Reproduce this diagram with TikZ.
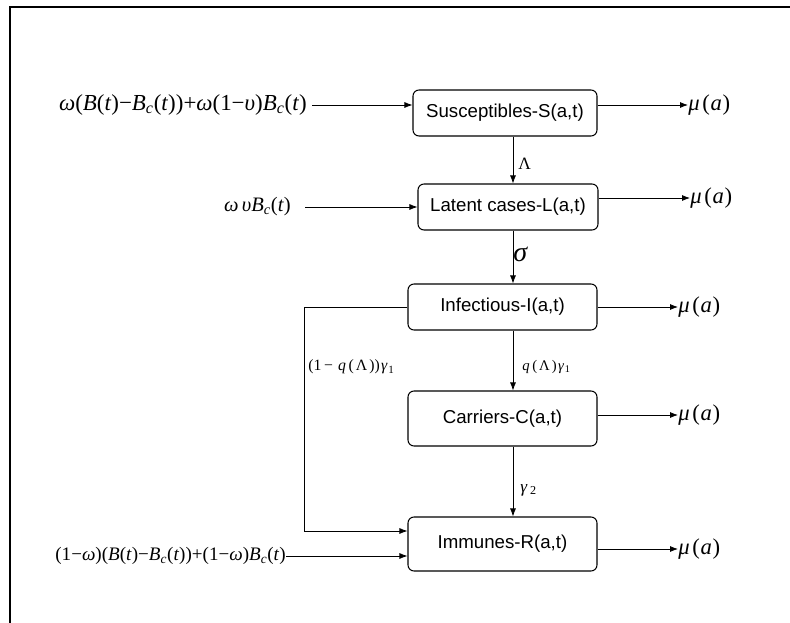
\documentclass[tikz,border=0pt]{standalone}
\usepackage{fontspec}
\setmainfont{Liberation Serif}
\newfontfamily\arialf{Liberation Sans}
\usetikzlibrary{arrows.meta}
\newcommand{\vv}[1]{\textit{#1}}
\newcommand{\subc}{\textsubscript{\textit{c}}}
\newcommand{\mua}{\vv{μ}\kern2pt(\kern0.5pt\vv{a}\kern0.5pt)}
\begin{document}
\begin{tikzpicture}[x=0.75pt,y=-0.75pt,
  box/.style={draw, rounded corners=4.5pt, line width=0.8pt, font=\arialf\fontsize{14}{16}\selectfont, inner sep=0pt},
  flow/.style={-{Latex[length=6pt,width=4.5pt]}, line width=0.6pt},
  mlab/.style={font=\fontsize{17}{19}\selectfont, inner sep=0pt},
  slab/.style={font=\fontsize{11}{13}\selectfont, inner sep=0pt},
]
\useasboundingbox (0,0) rectangle (790,623);
\draw[line width=1.5pt] (10,623) -- (10,7) -- (790,7);

% compartments
\node[box, minimum width=138pt, minimum height=34.5pt] (S) at (505,113) {Susceptibles-S(a,t)};
\node[box, minimum width=135pt, minimum height=34.5pt] (L) at (508,207) {Latent cases-L(a,t)};
\node[box, minimum width=141.75pt, minimum height=34.5pt] (I) at (502.5,307) {Infectious-I(a,t)};
\node[box, minimum width=141.75pt, minimum height=41.25pt] (C) at (502.5,418.5) {Carriers-C(a,t)};
\node[box, minimum width=141.75pt, minimum height=40.5pt] (R) at (502.5,544) {Immunes-R(a,t)};

% inflows
\node[inner sep=0pt, font=\fontsize{17.2}{19}\selectfont, anchor=east] (inS) at (307,105) {\vv{ω}(\vv{B}(\vv{t})−\vv{B}\subc(\vv{t}))+\vv{ω}(1−\vv{υ})\vv{B}\subc(\vv{t})};
\node[inner sep=0pt, font=\fontsize{15.4}{18}\selectfont, anchor=east] (inL) at (291,207) {\vv{ω}\kern2.5pt\vv{υB}\subc(\vv{t})};
\node[inner sep=0pt, font=\fontsize{14.3}{17}\selectfont, anchor=east] (inR) at (286,556) {(1−\vv{ω})(\vv{B}(\vv{t})−\vv{B}\subc(\vv{t}))+(1−\vv{ω})\vv{B}\subc(\vv{t})};
\draw[flow] ([xshift=3.75pt]inS.east) -- (S.west |- inS.east);
\draw[flow] ([xshift=10.5pt]inL.east) -- (L.west |- inL.east);
\draw[flow] (inR.east) -- (R.west |- inR.east);

% death outflows
\node[mlab, anchor=west] (mS) at (688,105) {\mua};
\node[mlab, anchor=west] (mL) at (690,198) {\mua};
\node[mlab, anchor=west] (mI) at (678,307) {\mua};
\node[mlab, anchor=west] (mC) at (678,415) {\mua};
\node[mlab, anchor=west] (mR) at (678,549) {\mua};
\foreach \b/\m in {S/mS, L/mL, I/mI, C/mC, R/mR}
  \draw[flow] (\b.east |- \m.west) -- (\m.west);

% vertical transitions
\coordinate (ax) at (513,0);
\draw[flow] (S.south -| ax) -- (L.north -| ax);
\draw[flow] (L.south -| ax) -- (I.north -| ax);
\draw[flow] (I.south -| ax) -- (C.north -| ax);
\draw[flow] (C.south -| ax) -- (R.north -| ax);
\node[font=\fontsize{13}{15}\selectfont, inner sep=0pt, anchor=west] (lLam) at (518,164) {Λ};
\node[font=\fontsize{21}{23}\selectfont, inner sep=0pt, anchor=west] (lsig) at (513,254) {\vv{σ}};
\node[slab, anchor=west] (lq) at (522,367) {\vv{q}\kern2pt(\kern1.5ptΛ\kern1.5pt)\kern1pt\vv{γ}\kern0.5pt\textsubscript{1}};
\node[font=\fontsize{13}{15}\selectfont, inner sep=0pt, anchor=west] (lg2) at (520,490) {\vv{γ}\kern2pt\textsubscript{2}};

% recovery bypass
\coordinate (fb) at (304,531);
\draw[flow] (I.west) -| (fb) -- (R.west |- fb);
\node[font=\fontsize{11.8}{14}\selectfont, inner sep=0pt, anchor=west] (l1q) at (308,367) {(1\kern2pt − \kern1pt\vv{q}\kern2pt(\kern1.5ptΛ\kern1.5pt))\kern1pt\vv{γ}\kern0.5pt\textsubscript{1}};
\end{tikzpicture}
\end{document}
